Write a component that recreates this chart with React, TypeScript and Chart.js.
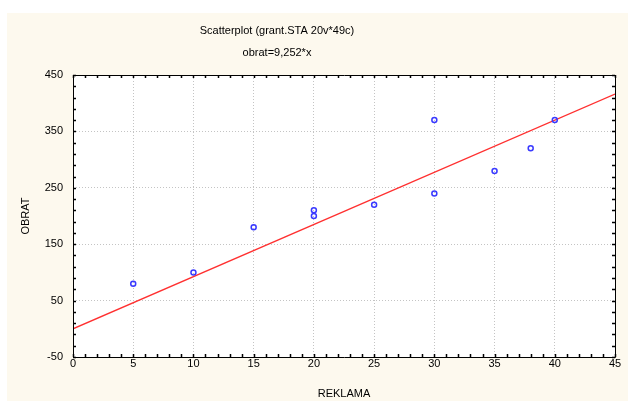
import React, { useEffect, useRef } from "react";
import { Chart, registerables } from "chart.js";

Chart.register(...registerables);

const chartTitle = "Scatterplot (grant.STA 20v*49c)";
const chartSubtitle = "obrat=9,252*x";
const xAxisTitle = "REKLAMA";
const yAxisTitle = "OBRAT";

const reklama = [5, 10, 15, 20, 20, 25, 30, 30, 35, 38, 40];
const obrat = [80, 100, 180, 200, 210, 220, 370, 240, 280, 320, 370];

const fitX = [0, 45];
const fitY = [0, 416.3];

const xMin = 0, xMax = 45, xStep = 5, xMinor = 1;
const yMin = -50, yMax = 450, yStep = 100, yMinor = 20;

const FONT = "'Liberation Sans', Arial, sans-serif";

const framePlugin = {
  id: "frame",
  beforeDraw(chart: any) {
    const { ctx, chartArea } = chart;
    ctx.save();
    ctx.fillStyle = "#fdf9ee";
    ctx.fillRect(7, 13, chart.width - 7, chart.height - 13);
    ctx.fillStyle = "#ffffff";
    ctx.fillRect(chartArea.left, chartArea.top, chartArea.right - chartArea.left, chartArea.bottom - chartArea.top);
    ctx.fillStyle = "#000000";
    ctx.font = "11px " + FONT;
    ctx.textAlign = "center";
    ctx.textBaseline = "middle";
    ctx.fillText(chartTitle, 277, 31);
    ctx.fillText(chartSubtitle, 277, 53);
    ctx.restore();
  },
  afterDraw(chart: any) {
    const { ctx, chartArea } = chart;
    const xs = chart.scales.x;
    const ys = chart.scales.y;
    const { left, right, top, bottom } = chartArea;
    ctx.save();
    ctx.strokeStyle = "#000000";
    ctx.lineWidth = 1;
    ctx.beginPath();
    ctx.rect(Math.round(left) + 0.5, Math.round(top) + 0.5, Math.round(right - left), Math.round(bottom - top));
    ctx.stroke();
    ctx.lineWidth = 1.5;
    ctx.beginPath();
    for (let v = xMin; v <= xMax; v += xMinor) {
      const px = Math.round(xs.getPixelForValue(v)) + 0.5;
      ctx.moveTo(px, bottom);
      ctx.lineTo(px, bottom - 3);
      ctx.moveTo(px, top);
      ctx.lineTo(px, top + 3);
    }
    for (let v = yMin; v <= yMax; v += yMinor) {
      const py = Math.round(ys.getPixelForValue(v)) + 0.5;
      ctx.moveTo(left, py);
      ctx.lineTo(left + 3, py);
      ctx.moveTo(right, py);
      ctx.lineTo(right - 3, py);
    }
    ctx.stroke();
    ctx.restore();
  },
};

export default function App() {
  const ref = useRef<HTMLCanvasElement>(null);
  useEffect(() => {
    document.body.style.margin = "0";
    const chart = new Chart(ref.current!, {
      type: "scatter",
      data: {
        datasets: [
          {
            type: "line",
            label: "fit",
            data: fitX.map((x, i) => ({ x, y: fitY[i] })),
            borderColor: "#ff3030",
            borderWidth: 1.3,
            pointRadius: 0,
            fill: false,
            order: 1,
          } as any,
          {
            label: "data",
            data: reklama.map((x, i) => ({ x, y: obrat[i] })),
            pointStyle: "circle",
            pointRadius: 2.5,
            borderColor: "#3a3aff",
            borderWidth: 1.5,
            backgroundColor: "rgba(0,0,0,0)",
            order: 0,
          },
        ],
      },
      options: {
        animation: false,
        responsive: false,
        maintainAspectRatio: false,
        layout: { padding: { left: 7, top: 75, right: 13, bottom: 0 } },
        plugins: {
          legend: { display: false },
          tooltip: { enabled: false },
          title: { display: false },
          subtitle: { display: false },
        },
        scales: {
          x: {
            type: "linear",
            min: xMin,
            max: xMax,
            afterFit(scale: any) { scale.height = 44; },
            ticks: { stepSize: xStep, color: "#000", font: { family: FONT, size: 11 }, padding: 0, maxRotation: 0 },
            grid: { color: "#c4c4c4", drawTicks: false, lineWidth: 1 },
            border: { display: false, dash: [1, 2] },
            title: { display: true, text: xAxisTitle, color: "#000", font: { family: FONT, size: 11 }, padding: { top: 0, bottom: 0 } },
          },
          y: {
            type: "linear",
            min: yMin,
            max: yMax,
            afterFit(scale: any) { scale.width = 66; },
            ticks: { stepSize: yStep, color: "#000", font: { family: FONT, size: 11 }, padding: 10 },
            grid: { color: "#c4c4c4", drawTicks: false, lineWidth: 1 },
            border: { display: false, dash: [1, 2] },
            title: { display: true, text: yAxisTitle, color: "#000", font: { family: FONT, size: 11 }, padding: { top: 12, bottom: 0 } },
          },
        },
      } as any,
      plugins: [framePlugin],
    });
    return () => chart.destroy();
  }, []);
  return <canvas ref={ref} width={628} height={401} style={{ display: "block" }} />;
}
